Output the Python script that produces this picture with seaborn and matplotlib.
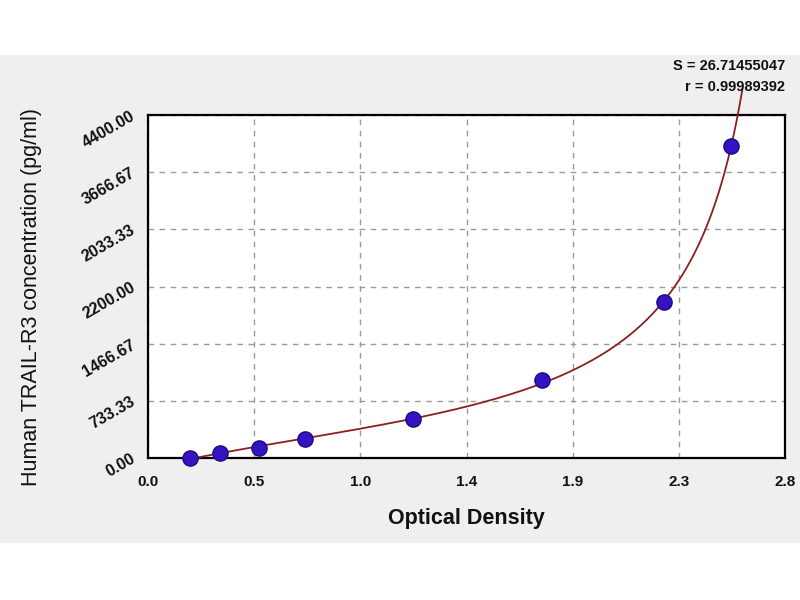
import numpy as np
import pandas as pd
import matplotlib
matplotlib.use("Agg")
import matplotlib.pyplot as plt
from matplotlib.patches import Rectangle
from matplotlib.ticker import FixedLocator, AutoMinorLocator
import seaborn as sns

# ---- data ----
od = [0.185, 0.316, 0.489, 0.690, 1.165, 1.732, 2.270, 2.563]
conc = [0.0, 62.5, 125.0, 250.0, 500.0, 1000.0, 2000.0, 4000.0]
x_ticks = [0.0, 0.4667, 0.9333, 1.4, 1.8667, 2.3333, 2.8]
x_tick_labels = ["0.0", "0.5", "1.0", "1.4", "1.9", "2.3", "2.8"]
y_ticks = [0.0, 733.33, 1466.67, 2200.0, 2933.33, 3666.67, 4400.0]
y_tick_labels = ["0.00", "733.33", "1466.67", "2200.00", "2033.33", "3666.67", "4400.00"]
stat_s = "S = 26.71455047"
stat_r = "r = 0.99989392"

X = np.array(od)
Y = np.array(conc)


# rational model y = (a + b x) / (1 + c x + d x^2), least-squares fit
def model(x, p):
    return (p[0] + p[1] * x) / (1 + p[2] * x + p[3] * x ** 2)


A = np.column_stack([np.ones_like(X), X, -X * Y, -X ** 2 * Y])
p = np.linalg.lstsq(A, Y, rcond=None)[0]
lam = 1e-3
for _ in range(300):
    r = Y - model(X, p)
    J = np.empty((len(X), len(p)))
    for k in range(len(p)):
        h = 1e-6 * max(1.0, abs(p[k]))
        pp = p.copy()
        pp[k] += h
        J[:, k] = (model(X, pp) - model(X, p)) / h
    H = J.T @ J
    g = J.T @ r
    dp = np.linalg.solve(H + lam * np.diag(np.diag(H)), g)
    if np.sum((Y - model(X, p + dp)) ** 2) < np.sum(r ** 2):
        p = p + dp
        lam /= 10
    else:
        lam *= 10

sns.set_style("white")
plt.rcParams["font.family"] = ["Liberation Sans", "DejaVu Sans"]
plt.rcParams["text.color"] = "#111111"
plt.rcParams["axes.labelcolor"] = "#111111"
plt.rcParams["xtick.color"] = "#111111"
plt.rcParams["ytick.color"] = "#111111"

fig = plt.figure(figsize=(8, 6), dpi=100)
fig.patches.append(Rectangle((0, 1 - 543 / 600), 1, (543 - 55) / 600,
                             transform=fig.transFigure, facecolor="#efefef",
                             edgecolor="none", zorder=-10))
ax = fig.add_axes([148 / 800, 1 - 458 / 600, (785 - 148) / 800, (458 - 115) / 600])
ax.set_facecolor("white")

xs = np.linspace(0.0, 2.62, 1500)
ys = model(xs, p)
ok = np.isfinite(ys) & (ys >= 0) & (ys <= 4740)
# keep only the continuous branch below the pole
pole_idx = np.where(np.diff(np.sign(1 + p[2] * xs + p[3] * xs ** 2)) != 0)[0]
if len(pole_idx):
    ok &= np.arange(len(xs)) <= pole_idx[0]
curve = pd.DataFrame({"x": xs[ok], "y": ys[ok]})
sns.lineplot(data=curve, x="x", y="y", ax=ax, color="#8a2020", linewidth=1.3,
             clip_on=False, zorder=3, sort=False)

pts = pd.DataFrame({"od": od, "conc": conc})
sns.scatterplot(data=pts, x="od", y="conc", ax=ax, s=120, color="#3512c4",
                edgecolor="#1c0a80", linewidth=1.0, zorder=4, clip_on=False)

ax.set_xlim(0, 2.8)
ax.set_ylim(0, 4400)
ax.xaxis.set_major_locator(FixedLocator(x_ticks))
ax.yaxis.set_major_locator(FixedLocator(y_ticks))
ax.set_xticklabels(x_tick_labels, fontsize=11, fontweight="bold")
ax.set_yticklabels(y_tick_labels, fontsize=11.5, fontweight="bold",
                   rotation=30, ha="right", va="center", rotation_mode="anchor")
ax.xaxis.set_minor_locator(AutoMinorLocator(4))
ax.yaxis.set_minor_locator(AutoMinorLocator(4))
ax.tick_params(axis="both", which="major", direction="out", length=6, width=1.5,
               color="black")
ax.tick_params(axis="both", which="minor", direction="out", length=4, width=1.5,
               color="black")
ax.tick_params(axis="x", which="major", pad=6)
ax.tick_params(axis="y", which="major", pad=4)

ax.grid(True, which="major", color="#9a9a9a", linestyle=(0, (4, 4)), linewidth=1.0)
for sp in ax.spines.values():
    sp.set_visible(True)
    sp.set_color("black")
    sp.set_linewidth(1.6)

ax.set_xlabel("Optical Density", fontsize=15.5, fontweight="bold", labelpad=14)
ax.set_ylabel("Human TRAIL-R3 concentration (pg/ml)", fontsize=15.5)
ax.yaxis.set_label_coords(-0.166, 0.47)

fig.text(785 / 800, 1 - 66 / 600, stat_s, ha="right", va="center", fontsize=10.5,
         fontweight="bold")
fig.text(785 / 800, 1 - 87 / 600, stat_r, ha="right", va="center", fontsize=10.5,
         fontweight="bold")

fig.savefig("out.png", dpi=100)
